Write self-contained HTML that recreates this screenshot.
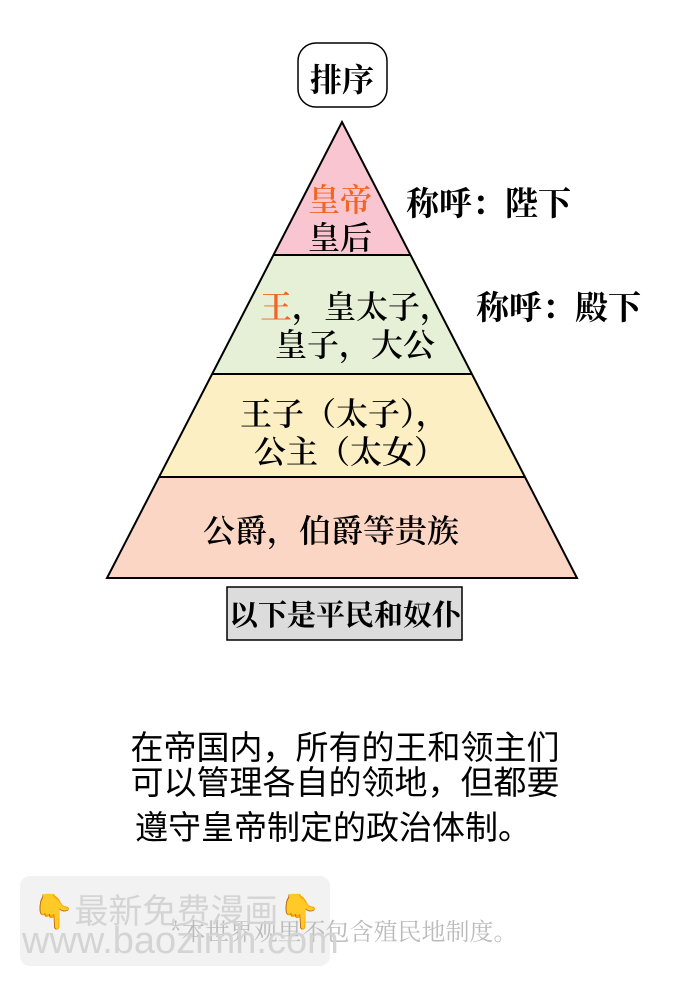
<!DOCTYPE html>
<html><head><meta charset="utf-8"><style>
body{margin:0;width:690px;height:986px;background:#fff;overflow:hidden;position:relative}
.s{font-family:"Noto Serif CJK SC","Liberation Serif",serif;color:#000;position:absolute;white-space:nowrap}
.p{font-family:"Liberation Sans","Noto Sans CJK SC",sans-serif;position:absolute;white-space:nowrap;font-size:33px;color:#000;left:0;width:690px;text-align:center}
</style></head><body>
<svg width="690" height="986" style="position:absolute;left:0;top:0">
<polygon points="342,122 273.5,255 410.5,255" fill="#f9c5d0"/>
<polygon points="273.5,255 410.5,255 471.8,374 212.2,374" fill="#e6f0d6"/>
<polygon points="212.2,374 471.8,374 524.8,477 159.2,477" fill="#fcefc3"/>
<polygon points="159.2,477 524.8,477 577,578 107,578" fill="#fbd6c4"/>
<polygon points="342,122 577,578 107,578" fill="none" stroke="#000" stroke-width="2"/>
<line x1="273.5" y1="255" x2="410.5" y2="255" stroke="#000" stroke-width="2"/>
<line x1="212.2" y1="374" x2="471.8" y2="374" stroke="#000" stroke-width="2"/>
<line x1="159.2" y1="477" x2="524.8" y2="477" stroke="#000" stroke-width="2"/>
<rect x="298" y="43" width="89" height="64" rx="18" fill="#fff" stroke="#000" stroke-width="1.5"/>
<rect x="227" y="587" width="235" height="53" fill="#dcdcdc" stroke="#000" stroke-width="1.5"/>
<rect x="20" y="876" width="310" height="90" rx="10" fill="#f2f2f2"/>
</svg>
<div class="s" style="left:310px;top:55px;font-size:32px;font-weight:bold">排序</div>
<div class="s" style="left:308px;top:175px;font-size:32px;font-weight:600;color:#f26522">皇帝</div>
<div class="s" style="left:308px;top:213px;font-size:32px;font-weight:600">皇后</div>
<div class="s" style="left:406px;top:178px;font-size:33px;font-weight:bold">称呼：陛下</div>
<div class="s" style="left:260px;top:282px;font-size:32px;font-weight:600"><span style="color:#f26522">王</span>，皇太子，</div>
<div class="s" style="left:275px;top:320px;font-size:32px;font-weight:600">皇子，大公</div>
<div class="s" style="left:476px;top:282px;font-size:33px;font-weight:bold">称呼：殿下</div>
<div class="s" style="left:240px;top:389px;font-size:32px;font-weight:600">王子（太子），</div>
<div class="s" style="left:254px;top:427px;font-size:32px;font-weight:600">公主（太女）</div>
<div class="s" style="left:203px;top:506px;font-size:32px;font-weight:600">公爵，伯爵等贵族</div>
<div class="s" style="left:229px;top:593px;font-size:29px;font-weight:bold">以下是平民和奴仆</div>
<div class="p" style="top:721px">在帝国内，所有的王和领主们</div>
<div class="p" style="top:756px">可以管理各自的领地，但都要</div>
<div class="p" style="top:801px;left:-12px">遵守皇帝制定的政治体制。</div>
<div class="s" style="left:170px;top:912px;font-size:24px;color:#bbb">*本世界观里不包含殖民地制度。</div>
<div class="p" style="left:32px;width:300px;text-align:left;top:884px;font-size:34px;color:#d4d4d4"><span style="color:#f5b830">👇</span>最新免费漫画<span style="color:#f5b830">👇</span></div>
<div class="p" style="left:22px;width:320px;text-align:left;top:920px;font-size:38px;color:#d4d4d4">www.baozimh.com</div>
</body></html>
